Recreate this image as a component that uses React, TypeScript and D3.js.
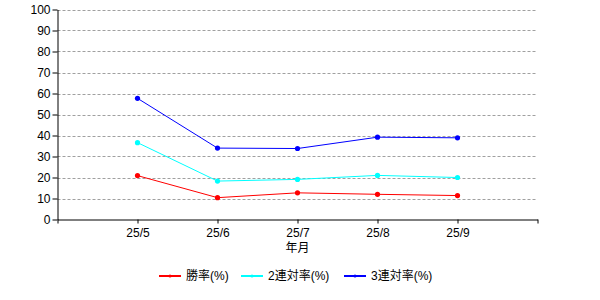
import React, { useEffect, useRef } from 'react';
import * as d3 from 'd3';

const months = ['25/5', '25/6', '25/7', '25/8', '25/9'];
const winRate = [20.9, 10.4, 12.7, 12.0, 11.4];
const top2Rate = [36.6, 18.3, 19.1, 21.0, 20.0];
const top3Rate = [57.7, 34.0, 33.8, 39.2, 38.9];
const yTicks = [0, 10, 20, 30, 40, 50, 60, 70, 80, 90, 100];

const seriesList = [
  { name: '勝率(%)', color: '#ff0000', values: winRate },
  { name: '2連対率(%)', color: '#00ffff', values: top2Rate },
  { name: '3連対率(%)', color: '#0000ff', values: top3Rate },
];

const W = 600;
const H = 300;
const FONT = '"Liberation Sans", "Noto Sans CJK JP", sans-serif';

const App = () => {
  const ref = useRef<SVGSVGElement>(null);

  useEffect(() => {
    const svg = d3.select(ref.current);
    svg.selectAll('*').remove();

    // index 0 and 6 are the empty ends of the axis
    const x = d3.scaleLinear().domain([0, months.length + 1]).range([57.5, 537.5]);
    const y = d3.scaleLinear().domain([0, 100]).range([219.5, 9.5]);

    // grid
    svg.append('g')
      .selectAll('line')
      .data(yTicks.filter(t => t > 0))
      .enter()
      .append('line')
      .attr('x1', x(0))
      .attr('x2', x(months.length + 1))
      .attr('y1', d => Math.round(y(d)) + 0.5)
      .attr('y2', d => Math.round(y(d)) + 0.5)
      .attr('stroke', '#a0a0a0')
      .attr('stroke-dasharray', '3,2');

    // y axis
    const yAxis = svg.append('g')
      .attr('transform', `translate(${x(0)},0)`)
      .call(d3.axisLeft(y).tickValues(yTicks).tickSize(5).tickSizeOuter(0));
    yAxis.select('.domain').attr('stroke', '#000');
    yAxis.selectAll('text').attr('font-family', FONT).attr('font-size', 12).attr('fill', '#000').attr('x', -7);

    // x axis
    const xTickVals = d3.range(0, months.length + 2);
    const xAxis = svg.append('g')
      .attr('transform', `translate(0,${y(0)})`)
      .call(
        d3.axisBottom(x)
          .tickValues(xTickVals)
          .tickSize(4)
          .tickSizeOuter(0)
          .tickFormat(d => months[(d as number) - 1] ?? '')
      );
    xAxis.select('.domain').attr('stroke', '#000');
    xAxis.selectAll('text').attr('font-family', FONT).attr('font-size', 12).attr('fill', '#000').attr('dy', '0.9em');

    svg.append('text')
      .attr('x', x(3))
      .attr('y', 252)
      .attr('text-anchor', 'middle')
      .attr('font-family', FONT)
      .attr('font-size', 12)
      .text('年月');

    // series
    const line = d3.line<number>()
      .x((d, i) => x(i + 1))
      .y(d => y(d));

    seriesList.forEach(s => {
      svg.append('path')
        .datum(s.values)
        .attr('d', line)
        .attr('fill', 'none')
        .attr('stroke', s.color)
        .attr('stroke-width', 1);

      svg.append('g')
        .selectAll('circle')
        .data(s.values)
        .enter()
        .append('circle')
        .attr('cx', (d, i) => x(i + 1))
        .attr('cy', d => y(d))
        .attr('r', 2.6)
        .attr('fill', s.color);
    });

    // legend
    const legendX = [159, 241, 344];
    const legend = svg.append('g').attr('transform', 'translate(0,276)');
    seriesList.forEach((s, i) => {
      const g = legend.append('g').attr('transform', `translate(${legendX[i]},0)`);
      g.append('line')
        .attr('x1', 0)
        .attr('x2', 22)
        .attr('y1', 0)
        .attr('y2', 0)
        .attr('stroke', s.color)
        .attr('stroke-width', 2);
      g.append('circle').attr('cx', 11).attr('cy', 0).attr('r', 1.5).attr('fill', s.color);
      g.append('text')
        .attr('x', 27)
        .attr('y', 4)
        .attr('font-family', FONT)
        .attr('font-size', 12)
        .text(s.name);
    });
  }, []);

  return (
    <svg
      ref={ref}
      width={W}
      height={H}
      style={{ position: 'absolute', left: 0, top: 0, background: '#fff' }}
    />
  );
};

export default App;
